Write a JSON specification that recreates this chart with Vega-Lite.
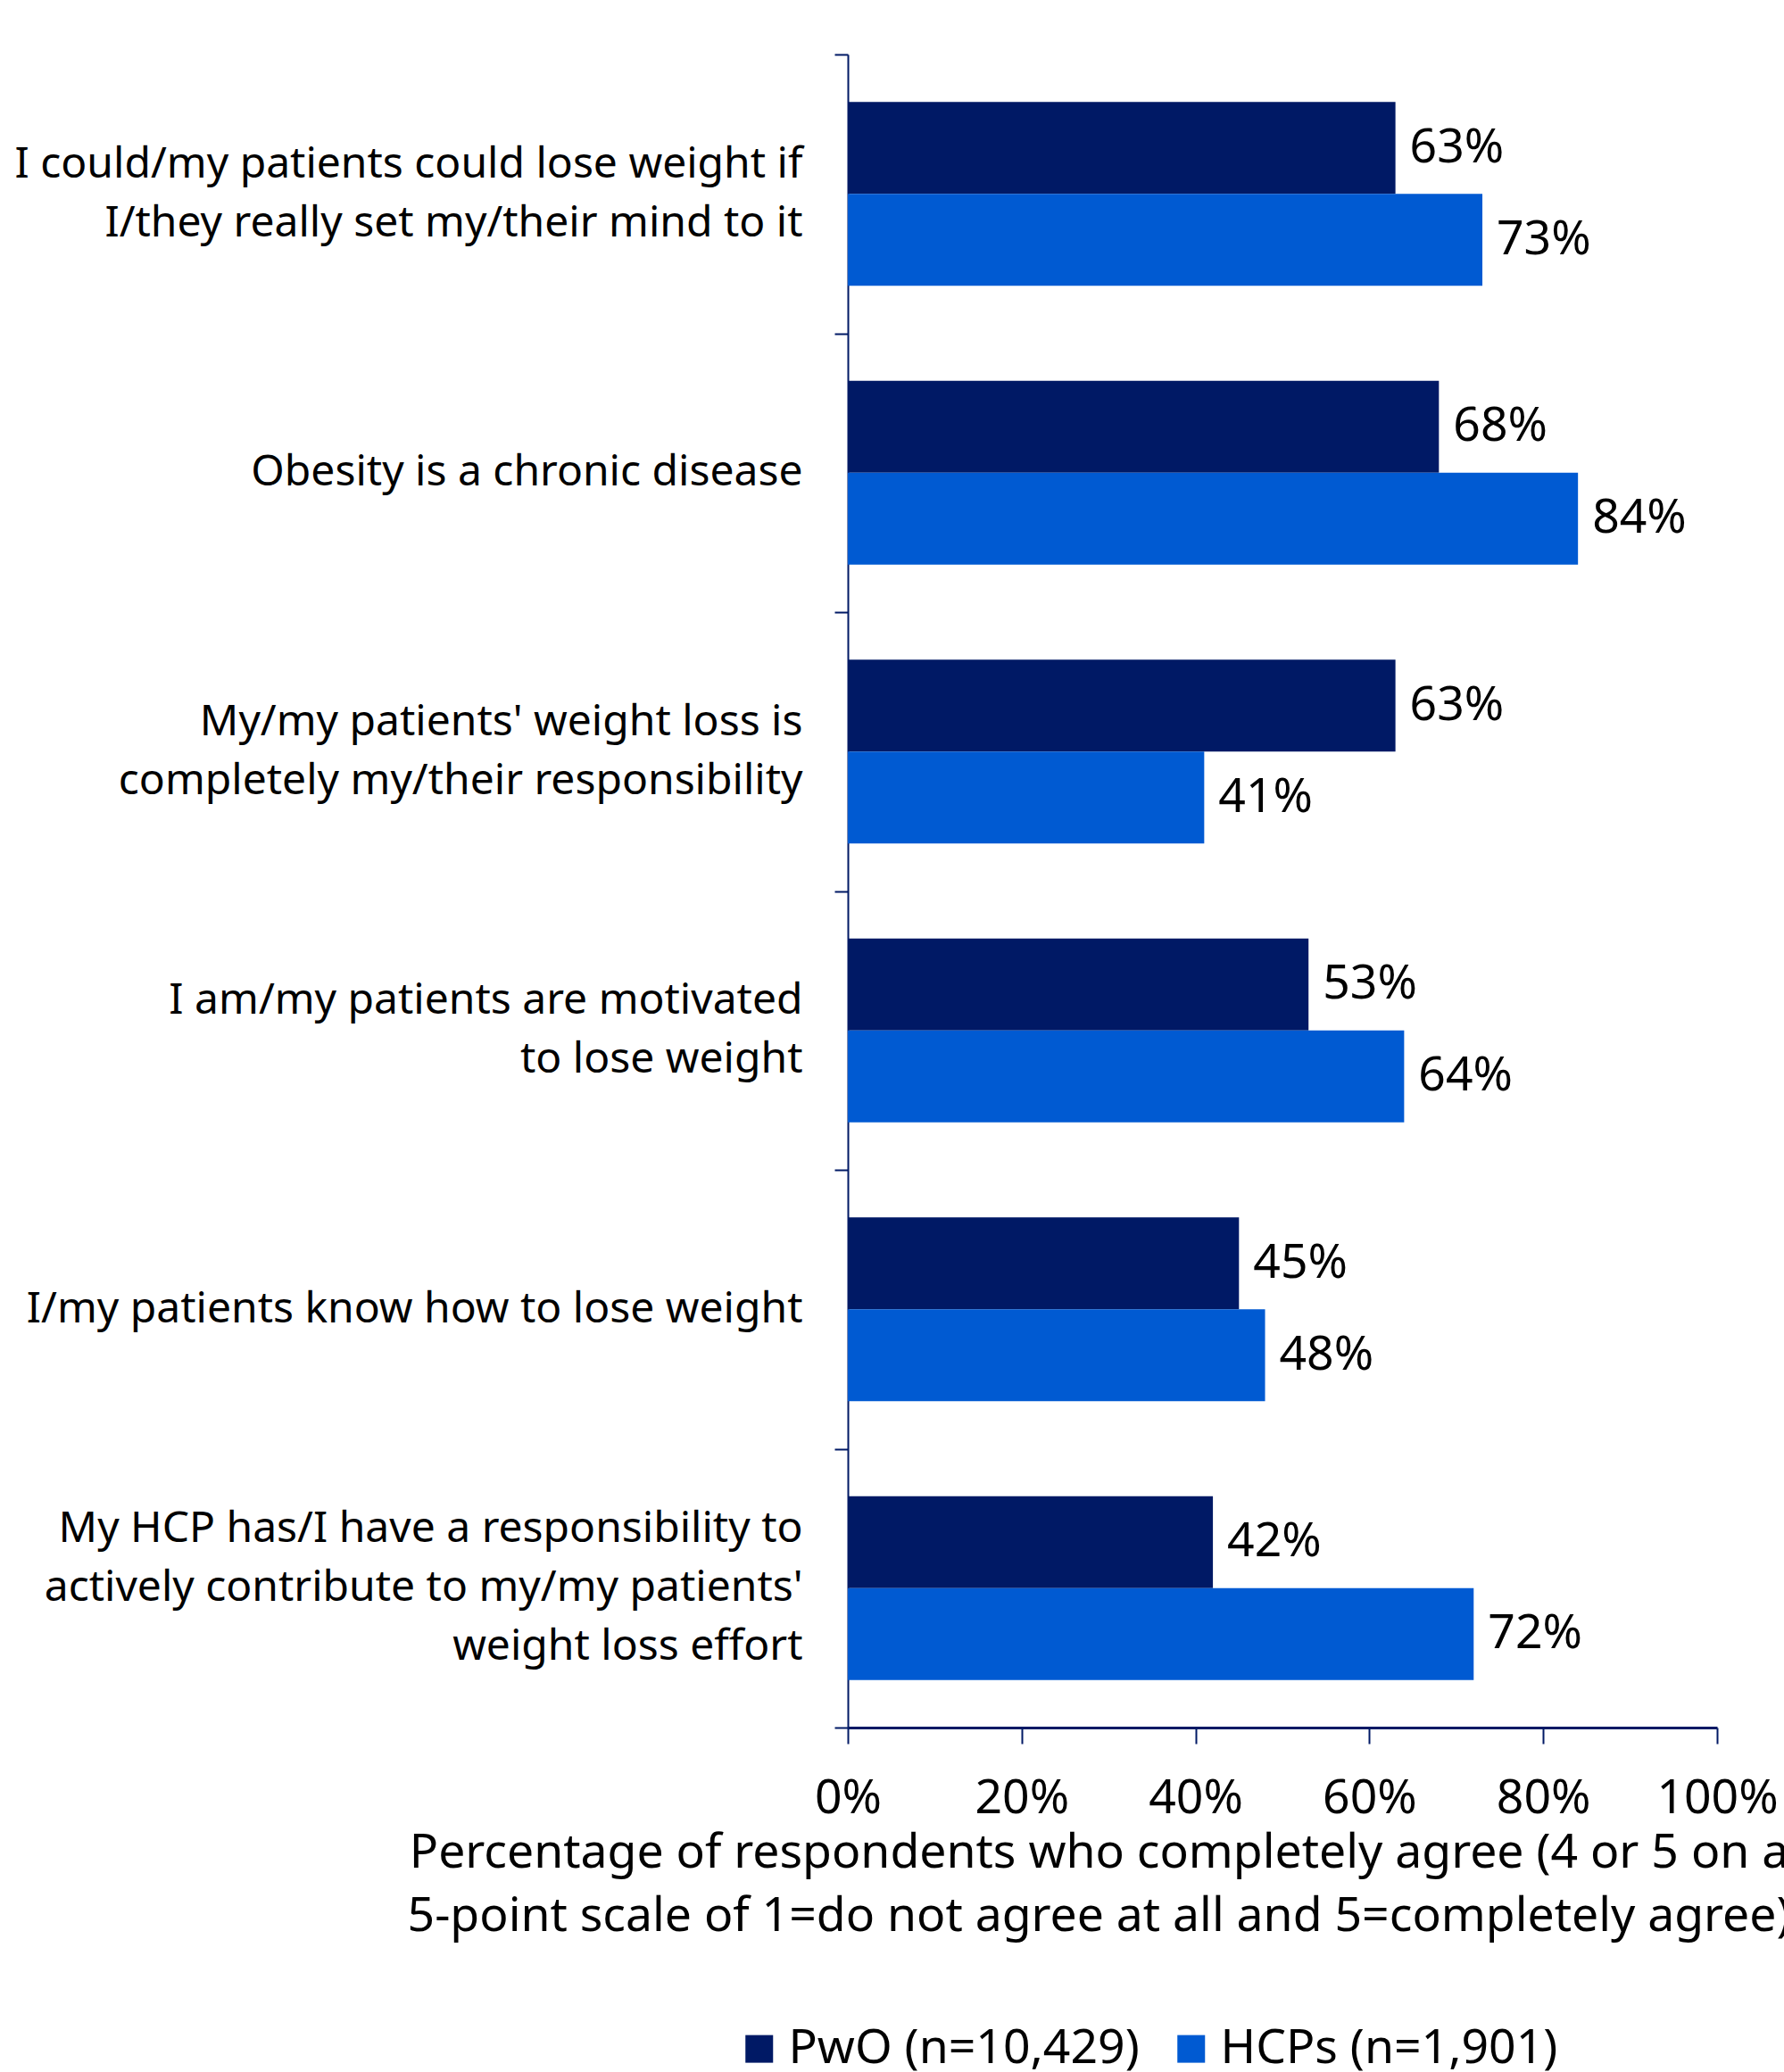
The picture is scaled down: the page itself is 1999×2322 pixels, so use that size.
{
  "$schema": "https://vega.github.io/schema/vega-lite/v6.json",
  "width": 974,
  "height": 1875,
  "padding": {"left": 16, "top": 37, "right": 0, "bottom": 0},
  "background": "white",
  "config": {"font": "Noto Sans", "view": {"stroke": null}},
  "data": {
    "values": [
      {"statement": "I could/my patients could lose weight if|I/they really set my/their mind to it", "group": "PwO (n=10,429)", "value": 0.63},
      {"statement": "I could/my patients could lose weight if|I/they really set my/their mind to it", "group": "HCPs (n=1,901)", "value": 0.73},
      {"statement": "Obesity is a chronic disease", "group": "PwO (n=10,429)", "value": 0.68},
      {"statement": "Obesity is a chronic disease", "group": "HCPs (n=1,901)", "value": 0.84},
      {"statement": "My/my patients' weight loss is|completely my/their responsibility", "group": "PwO (n=10,429)", "value": 0.63},
      {"statement": "My/my patients' weight loss is|completely my/their responsibility", "group": "HCPs (n=1,901)", "value": 0.41},
      {"statement": "I am/my patients are motivated|to lose weight", "group": "PwO (n=10,429)", "value": 0.53},
      {"statement": "I am/my patients are motivated|to lose weight", "group": "HCPs (n=1,901)", "value": 0.64},
      {"statement": "I/my patients know how to lose weight", "group": "PwO (n=10,429)", "value": 0.45},
      {"statement": "I/my patients know how to lose weight", "group": "HCPs (n=1,901)", "value": 0.48},
      {"statement": "My HCP has/I have a responsibility to|actively contribute to my/my patients'|weight loss effort", "group": "PwO (n=10,429)", "value": 0.42},
      {"statement": "My HCP has/I have a responsibility to|actively contribute to my/my patients'|weight loss effort", "group": "HCPs (n=1,901)", "value": 0.72}
    ]
  },
  "encoding": {
    "y": {
      "field": "statement",
      "type": "nominal",
      "sort": null,
      "scale": {"paddingInner": 0, "paddingOuter": 0},
      "axis": {
        "title": null,
        "domainColor": "#001965",
        "domainWidth": 2,
        "tickColor": "#001965",
        "tickWidth": 2,
        "tickSize": 15,
        "tickBand": "extent",
        "labelFontSize": 48,
        "labelLineHeight": 66,
        "labelPadding": 36,
        "labelColor": "black",
        "labelLimit": 0,
        "labelAlign": "right",
        "labelBaseline": "middle",
        "labelOffset": {
          "condition": [
            {"test": "length(split(datum.value, '|')) == 3", "value": -66},
            {"test": "length(split(datum.value, '|')) == 2", "value": -33}
          ],
          "value": 0
        },
        "labelExpr": "split(datum.label, '|')"
      }
    },
    "yOffset": {
      "field": "group",
      "type": "nominal",
      "sort": ["PwO (n=10,429)", "HCPs (n=1,901)"],
      "scale": {"paddingInner": 0, "paddingOuter": 0.517}
    },
    "x": {
      "field": "value",
      "type": "quantitative",
      "scale": {"domain": [0, 1]},
      "axis": {
        "format": ".0%",
        "values": [0, 0.2, 0.4, 0.6, 0.8, 1],
        "grid": false,
        "domainColor": "#001965",
        "domainWidth": 3,
        "tickColor": "#001965",
        "tickWidth": 2,
        "tickSize": 18,
        "labelFontSize": 53.5,
        "labelPadding": 35,
        "labelColor": "black",
        "labelFlush": false,
        "labelOverlap": false,
        "title": ["Percentage of respondents who completely agree (4 or 5 on a", "5-point scale of 1=do not agree at all and 5=completely agree)"],
        "titleFontSize": 53.5,
        "titleFontWeight": "normal",
        "titleLineHeight": 71,
        "titleColor": "black",
        "titlePadding": 9,
        "titleX": 281,
        "titleAlign": "center",
        "titleAnchor": "middle"
      }
    }
  },
  "layer": [
    {
      "mark": {"type": "bar"},
      "encoding": {
        "color": {
          "field": "group",
          "type": "nominal",
          "sort": ["PwO (n=10,429)", "HCPs (n=1,901)"],
          "scale": {"domain": ["PwO (n=10,429)", "HCPs (n=1,901)"], "range": ["#001965", "#005AD2"]},
          "legend": {
            "title": null,
            "orient": "none",
            "legendX": -126,
            "legendY": 2208,
            "direction": "horizontal",
            "symbolType": "square",
            "symbolSize": 961,
            "symbolStrokeWidth": 0,
            "labelFontSize": 53.5,
            "labelColor": "black",
            "labelOffset": 6,
            "labelLimit": 0,
            "columnPadding": 31
          }
        }
      }
    },
    {
      "mark": {"type": "text", "align": "left", "baseline": "middle", "dx": 16, "fontSize": 53.5, "color": "black"},
      "encoding": {
        "text": {"field": "value", "type": "quantitative", "format": ".0%"}
      }
    }
  ]
}
